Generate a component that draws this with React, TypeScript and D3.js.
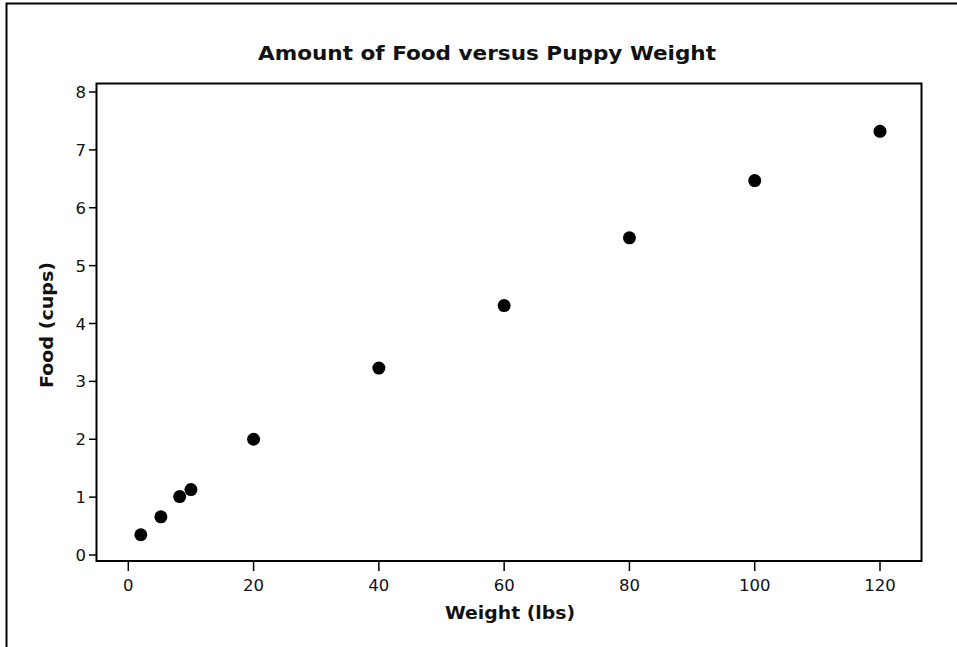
import React from "react";
import * as d3 from "d3";

const weights = [2, 5.2, 8.2, 10, 20, 40, 60, 80, 100, 120];
const food = [0.35, 0.66, 1.01, 1.13, 2.0, 3.23, 4.31, 5.48, 6.47, 7.32];
const xTicks = [0, 20, 40, 60, 80, 100, 120];
const yTicks = [0, 1, 2, 3, 4, 5, 6, 7, 8];
const title = "Amount of Food versus Puppy Weight";
const xLabel = "Weight (lbs)";
const yLabel = "Food (cups)";

export default function App() {
  const W = 957, H = 647;
  const left = 96.5, right = 921.5, top = 83.5, bottom = 561;
  const x = d3.scaleLinear().domain([0, 120]).range([128.3, 880]);
  const y = d3.scaleLinear().domain([0, 8]).range([555, 92]);
  const font = "Tahoma, 'DejaVu Sans', Verdana, sans-serif";
  return (
    <svg width={W} height={H} style={{ position: "absolute", left: 0, top: 0 }} fontFamily={font}>
      <rect x={0} y={0} width={W} height={H} fill="#fff" />
      <rect x={6.5} y={3.5} width={W + 10} height={H + 10} fill="none" stroke="#000" strokeWidth={2} />
      <text x={487} y={59.5} textAnchor="middle" fontWeight="bold" fontSize={19.5} textLength={458} lengthAdjust="spacingAndGlyphs" fill="#111">{title}</text>
      <rect x={left} y={top} width={right - left} height={bottom - top} fill="none" stroke="#000" strokeWidth={2} />
      {yTicks.map((t) => (
        <g key={"y" + t}>
          <line x1={89} x2={left} y1={y(t)} y2={y(t)} stroke="#000" strokeWidth={1.5} />
          <text x={86} y={y(t) + 6} textAnchor="end" fontSize={16.5} fill="#111">{t}</text>
        </g>
      ))}
      {xTicks.map((t) => (
        <g key={"x" + t}>
          <line x1={x(t)} x2={x(t)} y1={bottom} y2={571} stroke="#000" strokeWidth={1.5} />
          <text x={x(t)} y={591} textAnchor="middle" fontSize={16.5} fill="#111">{t}</text>
        </g>
      ))}
      <text x={510} y={619} textAnchor="middle" fontWeight="bold" fontSize={18} textLength={130} lengthAdjust="spacingAndGlyphs" fill="#111">{xLabel}</text>
      <text transform={`translate(53,325) rotate(-90)`} textAnchor="middle" fontWeight="bold" fontSize={18} textLength={126} lengthAdjust="spacingAndGlyphs" fill="#111">{yLabel}</text>
      {weights.map((w, i) => (
        <circle key={i} cx={x(w)} cy={y(food[i])} r={6.5} fill="#000" />
      ))}
    </svg>
  );
}
